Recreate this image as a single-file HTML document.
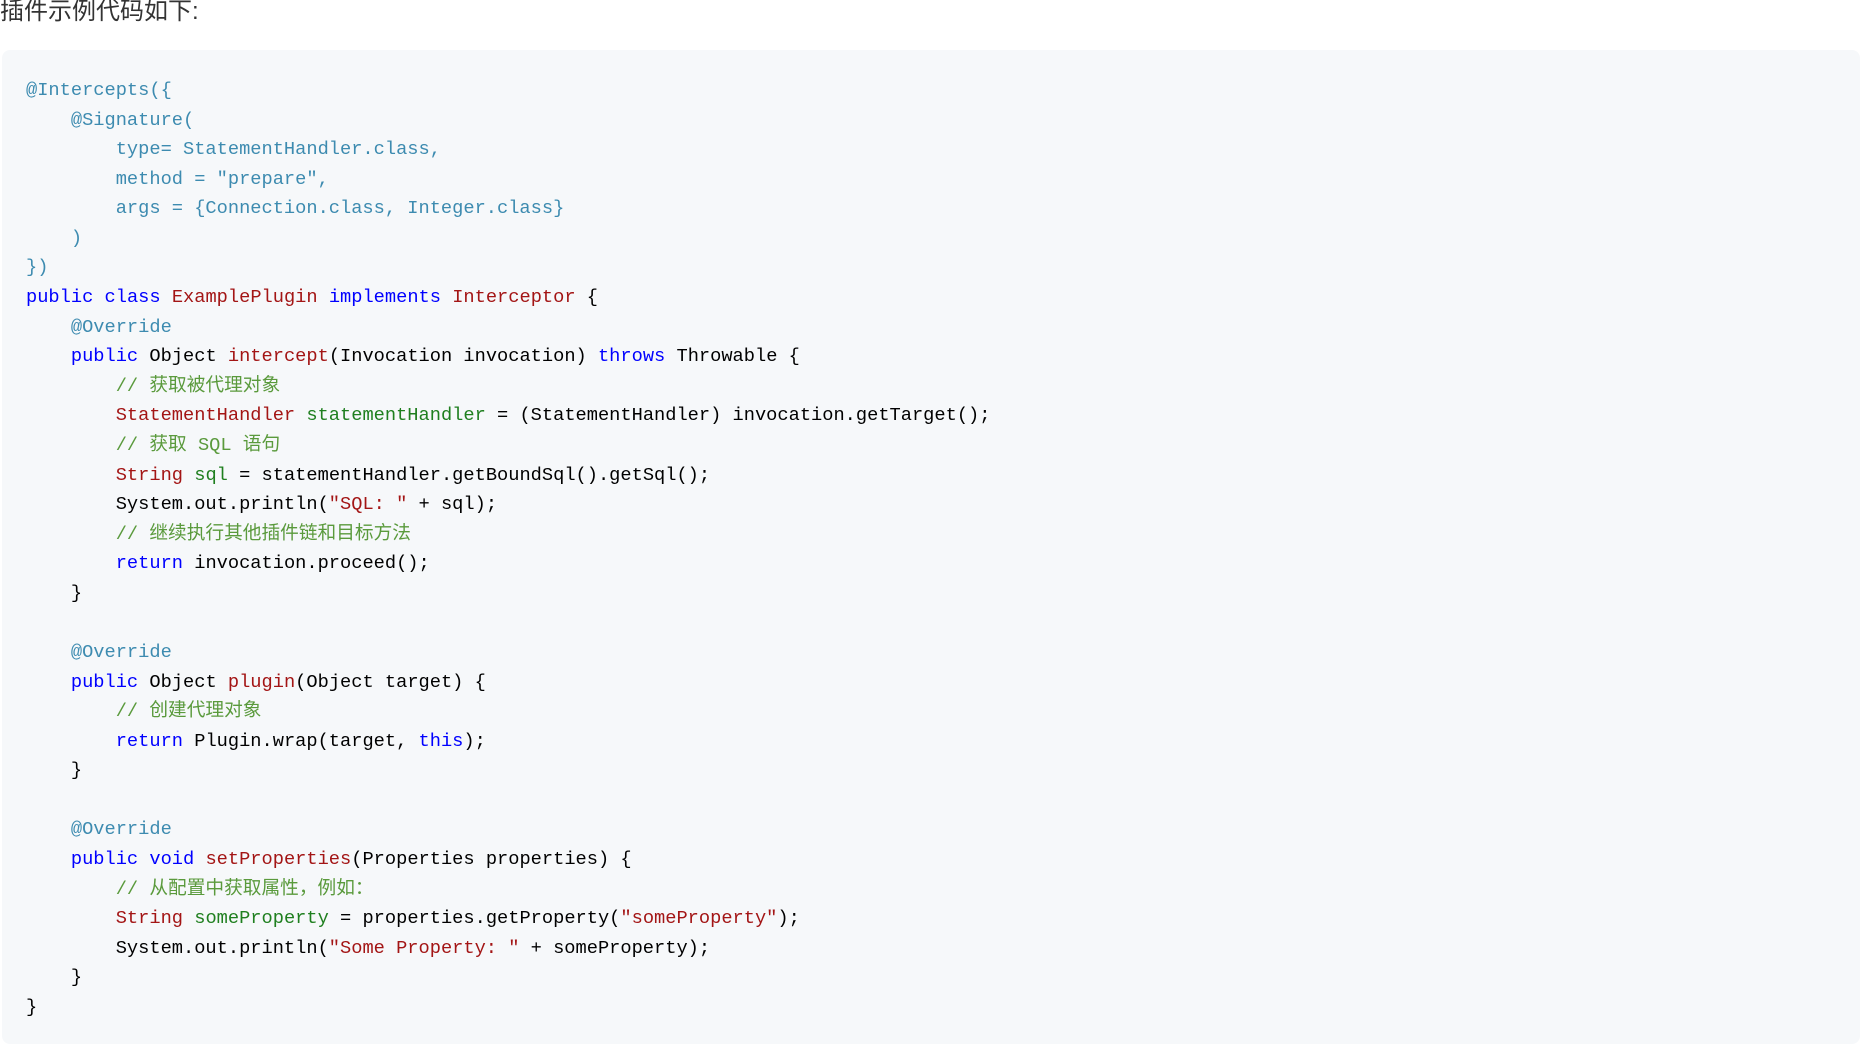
<!DOCTYPE html>
<html><head><meta charset="utf-8"><style>
html,body{margin:0;padding:0;background:#fff;width:1860px;height:1046px;overflow:hidden;position:relative}
.h{position:absolute;left:0;top:-9px;font:24px "Liberation Sans","Noto Sans CJK SC",sans-serif;color:#333}
.box{position:absolute;left:2px;top:50px;width:1858px;height:994px;background:#f6f8fa;border-radius:8px}
pre{position:absolute;left:26px;top:76px;margin:0;font:18.7px/29.58px "Liberation Mono","Noto Sans CJK SC",monospace;color:#000}
.a{color:#3d8bb0}.k{color:#0000ff}.t{color:#a31515}.v{color:#1f7f1f}.c{color:#5a9a3c}.s{color:#a31515}
</style></head><body>
<div class="h">插件示例代码如下:</div>
<div class="box"></div>
<pre><span class="a">@Intercepts({
    @Signature(
        type= StatementHandler.class,
        method = "prepare",
        args = {Connection.class, Integer.class}
    )
})</span>
<span class="k">public</span> <span class="k">class</span> <span class="t">ExamplePlugin</span> <span class="k">implements</span> <span class="t">Interceptor</span> {
    <span class="a">@Override</span>
    <span class="k">public</span> Object <span class="t">intercept</span>(Invocation invocation) <span class="k">throws</span> Throwable {
        <span class="c">// 获取被代理对象</span>
        <span class="t">StatementHandler</span> <span class="v">statementHandler</span> = (StatementHandler) invocation.getTarget();
        <span class="c">// 获取 SQL 语句</span>
        <span class="t">String</span> <span class="v">sql</span> = statementHandler.getBoundSql().getSql();
        System.out.println(<span class="s">"SQL: "</span> + sql);
        <span class="c">// 继续执行其他插件链和目标方法</span>
        <span class="k">return</span> invocation.proceed();
    }

    <span class="a">@Override</span>
    <span class="k">public</span> Object <span class="t">plugin</span>(Object target) {
        <span class="c">// 创建代理对象</span>
        <span class="k">return</span> Plugin.wrap(target, <span class="k">this</span>);
    }

    <span class="a">@Override</span>
    <span class="k">public</span> <span class="k">void</span> <span class="t">setProperties</span>(Properties properties) {
        <span class="c">// 从配置中获取属性，例如：</span>
        <span class="t">String</span> <span class="v">someProperty</span> = properties.getProperty(<span class="s">"someProperty"</span>);
        System.out.println(<span class="s">"Some Property: "</span> + someProperty);
    }
}</pre>
</body></html>
